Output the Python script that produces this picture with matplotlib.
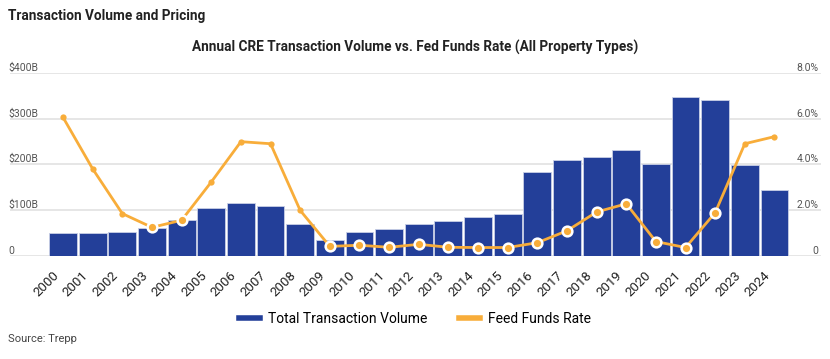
import numpy as np
import matplotlib.pyplot as plt
import matplotlib.transforms as mtransforms
from matplotlib.lines import Line2D

plt.rcParams['font.family'] = ['Roboto', 'DejaVu Sans']

# Data
years = [str(y) for y in range(2000, 2025)]
volume = [50, 50, 52, 62, 79, 105, 116, 110, 70, 36, 52, 58, 70, 76, 86,
          92, 183, 210, 216, 231, 201, 346, 341, 199, 145]  # $B
fed_rate = [6.05, 3.8, 1.85, 1.25, 1.56, 3.23, 4.99, 4.9, 1.99, 0.42, 0.47,
            0.38, 0.51, 0.38, 0.37, 0.37, 0.58, 1.1, 1.92, 2.28, 0.63, 0.37,
            1.89, 4.9, 5.21]  # %
left_ticks = [0, 100, 200, 300, 400]
left_labels = ['0', '$100B', '$200B', '$300B', '$400B']
right_ticks = [0, 2, 4, 6, 8]
right_labels = ['0', '2.0%', '4.0%', '6.0%', '8.0%']

bar_color = '#233f99'
line_color = '#f8ad3a'
grid_color = '#e1e1e1'
label_color = '#555555'

fig = plt.figure(figsize=(8.3, 3.59), dpi=100)
ax = fig.add_axes([10 / 830, 1 - 256 / 359, 811 / 830, (256 - 72.7) / 359])
ax2 = ax.twinx()

x = np.arange(len(years))
ax.bar(x, volume, width=0.94, color=bar_color, edgecolor='#c9d0e6', linewidth=0.6, zorder=2)
ax.set_ylim(0, 400)
ax.set_xlim(-1.79, 25.57)
for t in left_ticks:
    ax.axhline(t, color=grid_color, linewidth=1.2, zorder=0)

ax2.set_ylim(0, 8)
ax2.plot(x, fed_rate, color=line_color, linewidth=2, zorder=3)
ringed = [r * 50 <= v + 5 for r, v in zip(fed_rate, volume)]
for xi, r, ring in zip(x, fed_rate, ringed):
    if ring:
        ax2.plot(xi, r, 'o', color=line_color, markersize=7, markeredgecolor='white',
                 markeredgewidth=1.8, zorder=4)
    else:
        ax2.plot(xi, r, 'o', color=line_color, markersize=4.5, markeredgewidth=0, zorder=4)

for a in (ax, ax2):
    for s in a.spines.values():
        s.set_visible(False)
    a.set_yticks([])
ax.tick_params(axis='x', length=0, pad=8)
ax.set_xticks(x)
ax.set_xticklabels(years, rotation=45, ha='right', rotation_mode='anchor',
                   fontsize=9.5, color='#222222')
shift = mtransforms.ScaledTranslation(-0.11, -0.02, fig.dpi_scale_trans)
for lab in ax.get_xticklabels():
    lab.set_transform(lab.get_transform() + shift)

# y labels sit just above the gridlines
for t, lab in zip(left_ticks, left_labels):
    ax.text(-0.002, t, lab, transform=ax.get_yaxis_transform(), ha='left', va='bottom',
            fontsize=7.5, color=label_color)
for t, lab in zip(right_ticks, right_labels):
    ax2.text(0.997, t, lab, transform=ax2.get_yaxis_transform(), ha='right', va='bottom',
             fontsize=7.5, color=label_color)

fig.text(8 / 830, 1 - 16 / 359, 'Transaction Volume and Pricing', fontsize=9.8,
         fontweight='bold', va='center', color='#222222')
fig.text(415 / 830, 1 - 47 / 359, 'Annual CRE Transaction Volume vs. Fed Funds Rate (All Property Types)',
         fontsize=9.8, fontweight='bold', ha='center', va='center', color='#222222')
fig.text(8 / 830, 1 - 339 / 359, 'Source: Trepp', fontsize=8, va='center', color='#444444')

handles = [Line2D([], [], color=bar_color, linewidth=4),
           Line2D([], [], color=line_color, linewidth=4)]
fig.legend(handles, ['Total Transaction Volume', 'Feed Funds Rate'], loc='center',
           bbox_to_anchor=(415 / 830, 1 - 319 / 359), ncol=2, frameon=False,
           fontsize=10, handlelength=1.5, columnspacing=2.3, handletextpad=0.6)

fig.savefig('out.png', dpi=100)
